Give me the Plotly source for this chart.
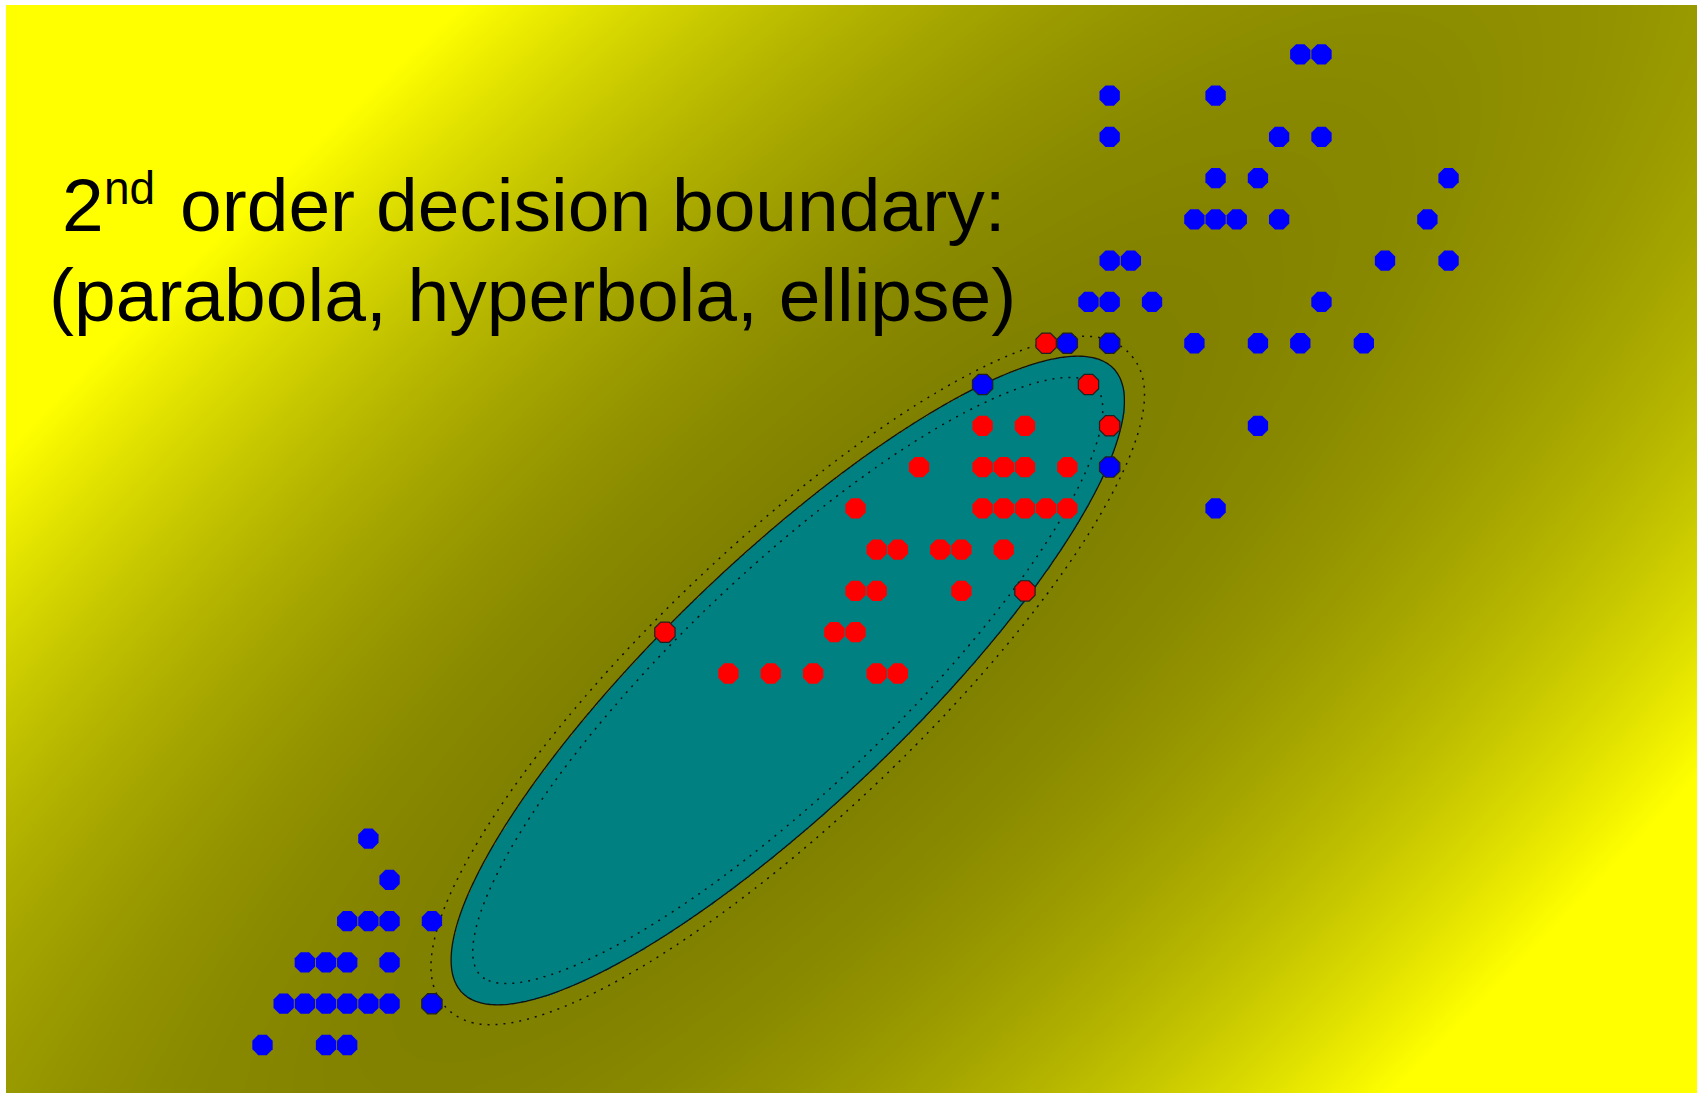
import numpy as np
import plotly.graph_objects as go

# ---------------- data (grid units) ----------------
blue_x = [49, 50, 40, 45, 40, 48, 50, 45, 47, 56, 44, 45, 46, 48, 55,
          40, 41, 53, 56, 39, 40, 42, 50, 44, 47, 49, 52, 47, 45,
          5, 6, 4, 5, 6, 8, 2, 3, 4, 6, 1, 2, 3, 4, 5, 6, 0, 3, 4]
blue_y = [24, 24, 23, 23, 22, 22, 22, 21, 21, 21, 20, 20, 20, 20, 20,
          19, 19, 19, 19, 18, 18, 18, 18, 17, 17, 17, 17, 15, 13,
          5, 4, 3, 3, 3, 3, 2, 2, 2, 2, 1, 1, 1, 1, 1, 1, 0, 0, 0]
blue_sv_x = [38, 40, 34, 40, 8]
blue_sv_y = [17, 17, 16, 14, 1]

red_x = [34, 36, 31, 34, 35, 36, 38, 28, 34, 35, 36, 37, 38,
         29, 30, 32, 33, 35, 28, 29, 33, 27, 28, 22, 24, 26, 29, 30]
red_y = [15, 15, 14, 14, 14, 14, 14, 13, 13, 13, 13, 13, 13,
         12, 12, 12, 12, 12, 11, 11, 11, 10, 10, 9, 9, 9, 9, 9]
red_sv_x = [37, 39, 40, 36, 19]
red_sv_y = [17, 16, 15, 11, 10]

# 2nd-order decision function  g = a*X^2 + b*X*Y + c*Y^2  (boundary at g = 1)
boundary_center = [24.8, 8.83]
boundary_quad = [0.01539, -0.05367, 0.06299]
g_saturation = 34.0          # value where the background reaches pure yellow
margin_levels = [-2.9, 2.5]  # inner / outer dotted margin lines

title_num = "2"
title_sup = "nd"
title_rest = "order decision boundary:"
title_line2 = "(parabola, hyperbola, ellipse)"

# ---------------- layout ----------------
W, H = 1697, 1093
ML, MR, MT, MB = 6, 0, 5, 0
x_range = [-12.11, 67.73]
y_range = [-1.163, 25.194]
PW, PH = W - ML - MR, H - MT - MB

xs = np.linspace(x_range[0], x_range[1], 520)
ys = np.linspace(y_range[0], y_range[1], 340)
XX, YY = np.meshgrid(xs - boundary_center[0], ys - boundary_center[1])
qa, qb, qc = boundary_quad
G = qa * XX ** 2 + qb * XX * YY + qc * YY ** 2

ppx = PW / (x_range[1] - x_range[0])
ppy = PH / (y_range[1] - y_range[0])
gx = (2 * qa * XX + qb * YY) / ppx
gy = (qb * XX + 2 * qc * YY) / ppy
gn = np.sqrt(gx ** 2 + gy ** 2) + 1e-12
E = (G - 1.0) / gn ** 0.6

t = 1.0 / g_saturation
colorscale = [[0.0, "#008080"], [t, "#008080"], [t, "#808000"], [1.0, "#ffff00"]]

fig = go.Figure()
fig.add_trace(go.Heatmap(x=xs, y=ys, z=np.minimum(G, g_saturation), zmin=0, zmax=g_saturation,
                         colorscale=colorscale, showscale=False, zsmooth="best",
                         hoverinfo="skip"))
fig.add_trace(go.Contour(x=xs, y=ys, z=E, showscale=False, hoverinfo="skip",
                         contours=dict(start=margin_levels[0], end=margin_levels[1],
                                       size=margin_levels[1] - margin_levels[0], coloring="none"),
                         line=dict(color="#111111", width=1.5, dash="2px,6px")))
fig.add_trace(go.Contour(x=xs, y=ys, z=G, showscale=False, hoverinfo="skip",
                         contours=dict(start=1, end=1, size=1, coloring="none"),
                         line=dict(color="#111111", width=1.3)))

mk = dict(symbol="octagon", size=22)
fig.add_trace(go.Scatter(x=blue_x, y=blue_y, mode="markers", hoverinfo="skip",
                         marker=dict(color="#0000ff", line=dict(width=0), **mk)))
fig.add_trace(go.Scatter(x=red_x, y=red_y, mode="markers", hoverinfo="skip",
                         marker=dict(color="#ff0000", line=dict(width=0), **mk)))
fig.add_trace(go.Scatter(x=blue_sv_x, y=blue_sv_y, mode="markers", hoverinfo="skip",
                         marker=dict(color="#0000ff", line=dict(width=1.2, color="#202020"), **mk)))
fig.add_trace(go.Scatter(x=red_sv_x, y=red_sv_y, mode="markers", hoverinfo="skip",
                         marker=dict(color="#ff0000", line=dict(width=1.2, color="#202020"), **mk)))

FAM = "Liberation Sans, Arial, sans-serif"


def px_x(p):
    return (p - ML) / PW


def px_y_bottom(baseline, size):
    return 1 - (baseline + 0.212 * size - MT) / PH


big = dict(family=FAM, size=75, color="black")
small = dict(family=FAM, size=46, color="black")
fig.add_annotation(text=title_num, xref="paper", yref="paper", x=px_x(60), y=px_y_bottom(233, 75),
                   xanchor="left", yanchor="bottom", showarrow=False, font=big)
fig.add_annotation(text=title_sup, xref="paper", yref="paper", x=px_x(102), y=px_y_bottom(206, 46),
                   xanchor="left", yanchor="bottom", showarrow=False, font=small)
fig.add_annotation(text=title_rest, xref="paper", yref="paper", x=px_x(178), y=px_y_bottom(233, 75),
                   xanchor="left", yanchor="bottom", showarrow=False, font=big)
fig.add_annotation(text=title_line2, xref="paper", yref="paper", x=px_x(532), y=px_y_bottom(323, 75),
                   xanchor="center", yanchor="bottom", showarrow=False, font=big)

fig.update_layout(width=W, height=H, margin=dict(l=ML, r=MR, t=MT, b=MB, pad=0),
                  paper_bgcolor="white", plot_bgcolor="#808000", showlegend=False,
                  xaxis=dict(range=x_range, visible=False, fixedrange=True),
                  yaxis=dict(range=y_range, visible=False, fixedrange=True))
fig.write_html("out.html", config={"displayModeBar": False},
               post_script="document.body.style.margin='0px';document.body.style.overflow='hidden';")
